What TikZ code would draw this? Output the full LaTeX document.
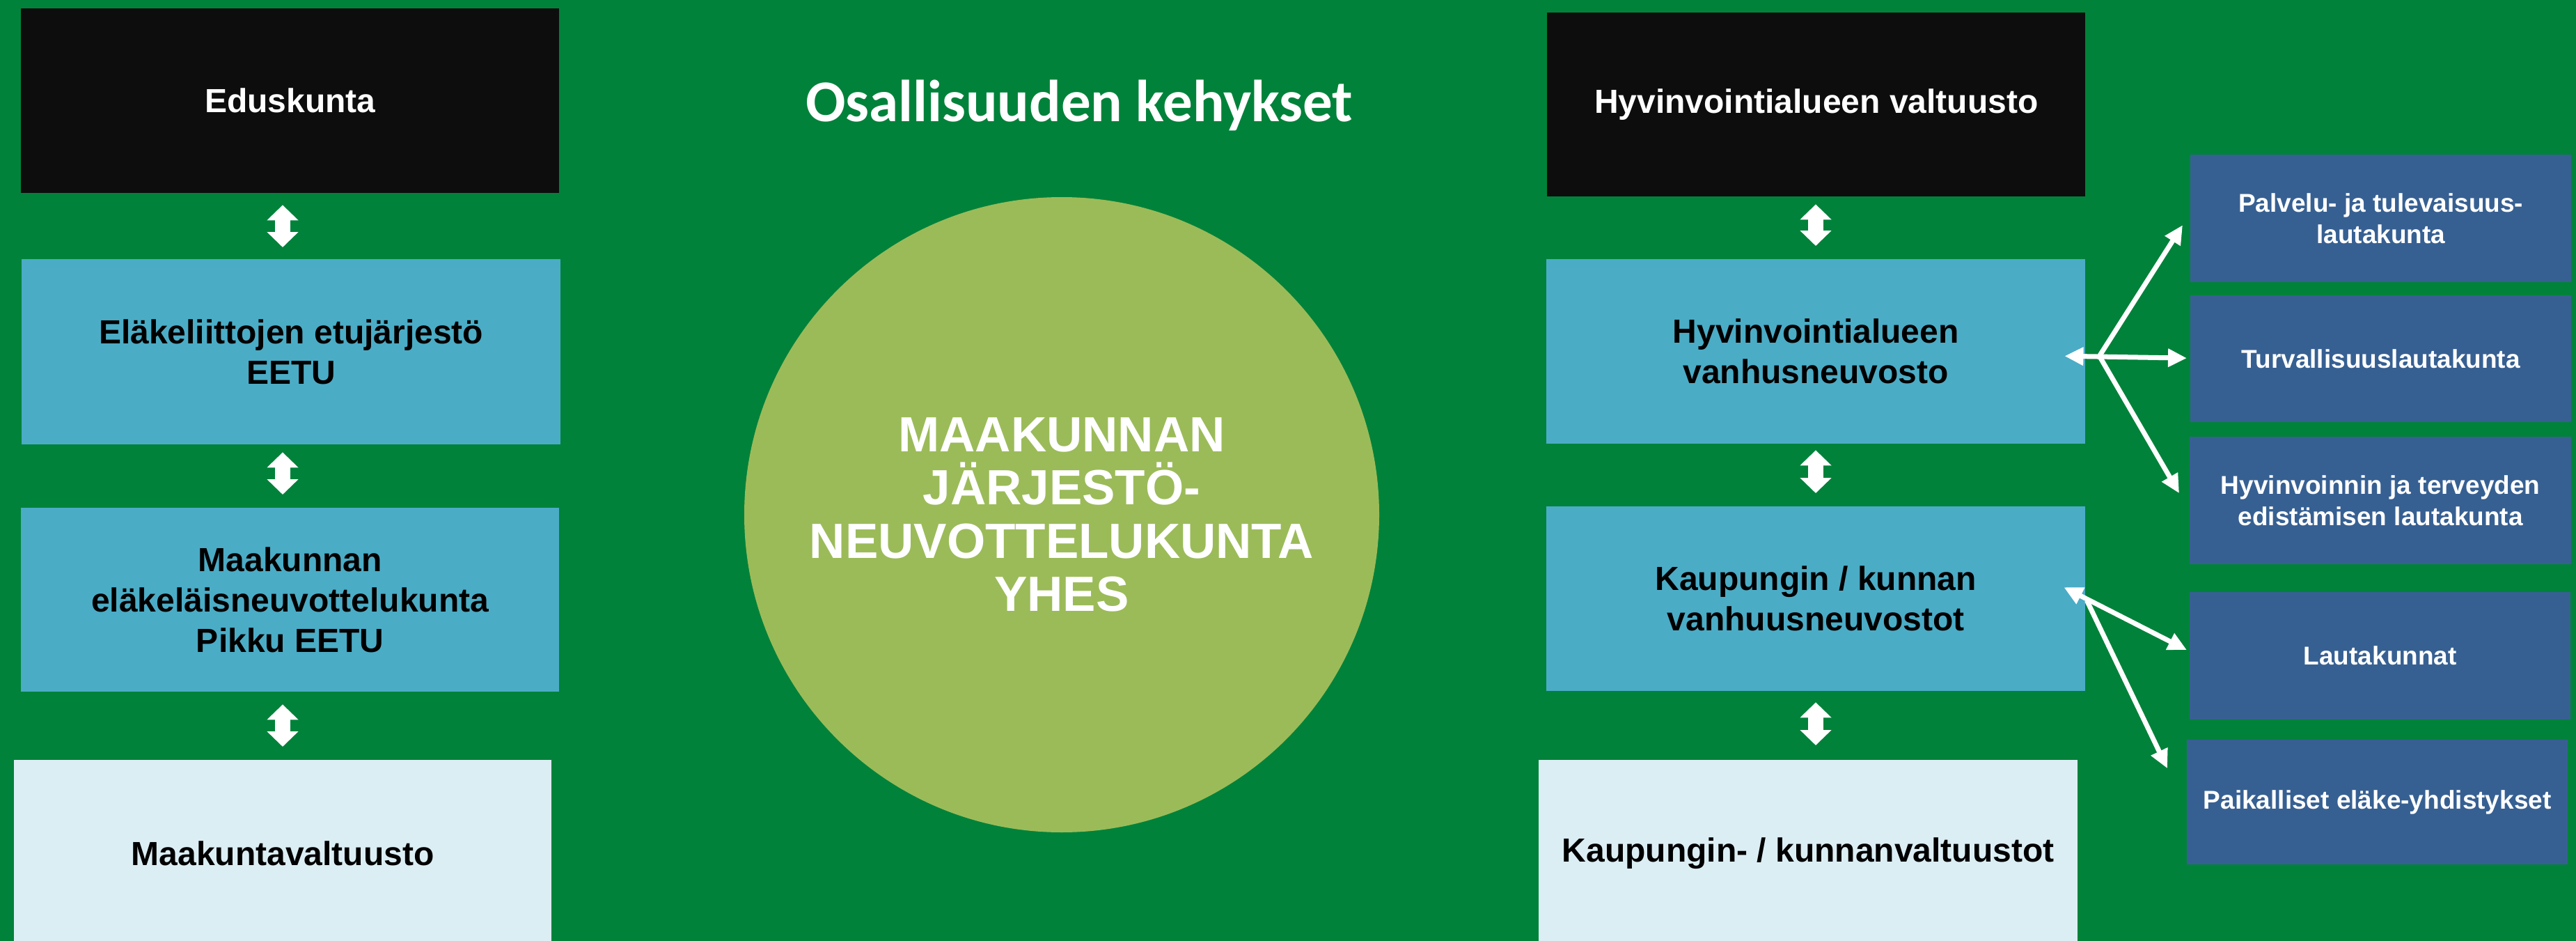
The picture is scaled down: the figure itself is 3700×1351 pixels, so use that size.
\documentclass[tikz,border=0pt]{standalone}
\usepackage{fontspec}
\setmainfont{Liberation Sans}
\newfontfamily\titlefont{Carlito}
\usetikzlibrary{arrows.meta,calc}
\definecolor{bggreen}{RGB}{1,130,58}
\definecolor{blackbox}{RGB}{13,13,13}
\definecolor{bluebox}{RGB}{75,172,198}
\definecolor{lightbox}{RGB}{219,238,244}
\definecolor{navybox}{RGB}{55,96,146}
\definecolor{circgreen}{RGB}{155,187,89}
\begin{document}
\begin{tikzpicture}[x=1pt,y=-1pt,
  bigbox/.style={rectangle, anchor=north west, inner sep=0pt, align=center,
    font=\fontsize{48}{58}\selectfont\bfseries},
  smallbox/.style={rectangle, fill=navybox, anchor=north west, inner sep=0pt, align=center,
    text=white, font=\fontsize{37}{44.5}\selectfont\bfseries},
  blockarr/.style={white, line width=22pt,
    {Triangle[length=22pt,width=44pt]}-{Triangle[length=22pt,width=44pt]}},
  thinarr/.style={white, line width=7pt, -{Triangle[length=27pt,width=25pt]}},
  thinboth/.style={white, line width=7pt,
    {Triangle[length=27pt,width=25pt]}-{Triangle[length=27pt,width=25pt]}},
]
\fill[bggreen] (0,0) rectangle (3700,1351);
\useasboundingbox (0,0) rectangle (3700,1351);

% title
\node[anchor=base, text=white, inner sep=0pt,
  font=\titlefont\fontsize{85}{100}\selectfont\bfseries] (title) at (1550,175) {Osallisuuden kehykset};

% central circle
\node[circle, fill=circgreen, minimum size=912pt, inner sep=0pt, text=white, align=center,
  font=\fontsize{71}{76.5}\selectfont\bfseries] (yhes) at (1525,739)
  {MAAKUNNAN\\JÄRJESTÖ-\\NEUVOTTELUKUNTA\\YHES};

% left column
\node[bigbox, fill=blackbox, text=white, minimum width=773pt, minimum height=265pt] (edus) at (30,12) {Eduskunta};
\node[bigbox, fill=bluebox, text=black, minimum width=774pt, minimum height=266pt] (elake) at (31,372) {Eläkeliittojen etujärjestö\\EETU};
\node[bigbox, fill=bluebox, text=black, minimum width=773pt, minimum height=264pt] (maak) at (30,729) {Maakunnan\\eläkeläisneuvottelukunta\\Pikku EETU};
\node[bigbox, fill=lightbox, text=black, minimum width=772pt, minimum height=268pt] (mvalt) at (20,1091) {Maakuntavaltuusto};

\draw[blockarr] ($(edus.south west)+(376,17)$) -- ($(elake.north west)+(375,-17)$);
\draw[blockarr] ($(elake.south west)+(375,11)$) -- ($(maak.north west)+(376,-19)$);
\draw[blockarr] ($(maak.south west)+(376,18)$) -- ($(mvalt.north west)+(386,-19)$);

% right column
\node[bigbox, fill=blackbox, text=white, minimum width=773pt, minimum height=264pt] (hvalt) at (2222,18) {Hyvinvointialueen valtuusto};
\node[bigbox, fill=bluebox, text=black, minimum width=774pt, minimum height=265pt] (hvanh) at (2221,372) {Hyvinvointialueen\\vanhusneuvosto};
\node[bigbox, fill=bluebox, text=black, minimum width=774pt, minimum height=265pt] (kvanh) at (2221,727) {Kaupungin / kunnan\\vanhuusneuvostot};
\node[bigbox, fill=lightbox, text=black, minimum width=774pt, minimum height=268pt] (kvalt) at (2210,1091) {Kaupungin- / kunnanvaltuustot};

\draw[blockarr] ($(hvalt.south west)+(386,11)$) -- ($(hvanh.north west)+(387,-19)$);
\draw[blockarr] ($(hvanh.south west)+(387,9)$) -- ($(kvanh.north west)+(387,-19)$);
\draw[blockarr] ($(kvanh.south west)+(387,16)$) -- ($(kvalt.north west)+(398,-21)$);

% small boxes
\node[smallbox, minimum width=547pt, minimum height=183pt] (palv) at (3146,222) {Palvelu- ja tulevaisuus-\\lautakunta};
\node[smallbox, minimum width=547pt, minimum height=182pt] (turv) at (3146,424) {Turvallisuuslautakunta};
\node[smallbox, minimum width=548pt, minimum height=183pt] (hyvt) at (3145,627) {Hyvinvoinnin ja terveyden\\edistämisen lautakunta};
\node[smallbox, minimum width=547pt, minimum height=183pt] (laut) at (3145,850) {Lautakunnat};
\node[smallbox, minimum width=547pt, minimum height=179pt] (paik) at (3141,1062) {Paikalliset eläke-yhdistykset};

% thin connectors, upper group
\coordinate (hubA) at ($(hvanh.east)+(20,6.5)$);
\draw[thinboth] ($(hvanh.east)+(-30,6.5)$) -- ($(turv.west)+(-5,-1)$);
\draw[thinarr] (hubA) -- ($(palv.west)+(-11,9.5)$);
\draw[thinarr] (hubA) -- ($(hyvt.west)+(-15,-10.5)$);

% thin connectors, lower group
\coordinate (hubB) at ($(kvanh.east)+(2,2.5)$);
\draw[thinboth] ($(kvanh.east)+(-31,-16.5)$) -- ($(laut.west)+(-4,-8.5)$);
\draw[thinarr] (hubB) -- ($(paik.west)+(-28,-48.5)$);
\end{tikzpicture}
\end{document}
